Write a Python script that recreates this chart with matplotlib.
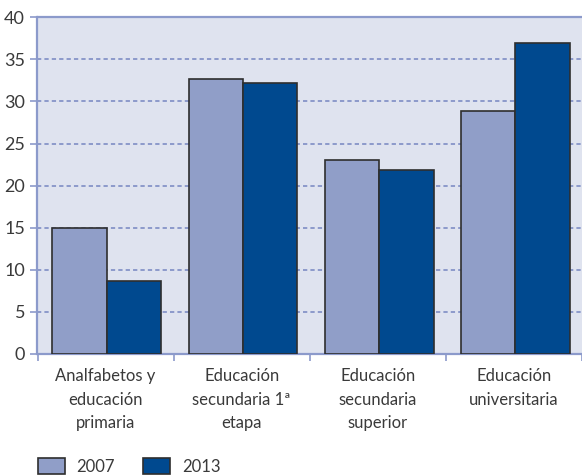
import matplotlib
matplotlib.use('Agg')
import matplotlib.pyplot as plt
import numpy as np

# values (%)
categories = ['Analfabetos y\neducación\nprimaria',
              'Educación\nsecundaria 1ª\netapa',
              'Educación\nsecundaria\nsuperior',
              'Educación\nuniversitaria']
vals_2007 = [15.0, 32.7, 23.1, 28.9]
vals_2013 = [8.7, 32.2, 21.9, 36.9]
years = ['2007', '2013']
yticks = [0, 5, 10, 15, 20, 25, 30, 35, 40]

c_light = '#909ec8'
c_dark = '#00498f'
c_bg = '#dfe3ef'
c_axis = '#8c9acb'
c_text = '#3a3a3a'

plt.rcParams['font.family'] = ['Lato', 'DejaVu Sans']
plt.rcParams['text.color'] = c_text

fig = plt.figure(figsize=(5.82, 4.76), dpi=100)
ax = fig.add_axes([37.5/582, (476-354)/476, 1 - 37.5/582, (354-17.3)/476])
ax.set_facecolor(c_bg)

x = np.arange(len(categories))
w = 0.4
b1 = ax.bar(x - w/2 + 0.01, vals_2007, w, color=c_light, edgecolor='#2e2e2e', linewidth=1.2, zorder=3, label=years[0])
b2 = ax.bar(x + w/2 + 0.01, vals_2013, w, color=c_dark, edgecolor='#2e2e2e', linewidth=1.2, zorder=3, label=years[1])

ax.set_ylim(0, 40)
ax.set_xlim(-0.5, 3.46)
ax.set_yticks(yticks)
ax.yaxis.grid(True, linestyle=(0, (2.2, 1.6)), color=c_axis, linewidth=1.4, zorder=1)
ax.set_axisbelow(True)

ax.set_xticks(x)
ax.set_xticklabels(categories, fontsize=12, linespacing=1.6, color=c_text)
ax.set_xticks(np.arange(-0.5, 4, 1), minor=True)
ax.tick_params(axis='x', which='major', length=0, pad=10)
ax.tick_params(axis='x', which='minor', length=5, width=1.2, color=c_axis, direction='out')
ax.tick_params(axis='y', length=5, width=1.2, color=c_axis, labelsize=13, labelcolor=c_text, pad=4)

for s in ['left', 'bottom', 'top']:
    ax.spines[s].set_color(c_axis)
    ax.spines[s].set_linewidth(1.6)
ax.spines['right'].set_visible(False)

fig.legend(handles=[b1, b2], labels=years, loc='lower left',
           bbox_to_anchor=(38/582, 1/476), ncol=2, frameon=False,
           fontsize=12, handlelength=1.62, handleheight=1.08,
           handletextpad=0.7, columnspacing=1.68, borderpad=0, borderaxespad=0)

fig.savefig('out.png', dpi=100)
